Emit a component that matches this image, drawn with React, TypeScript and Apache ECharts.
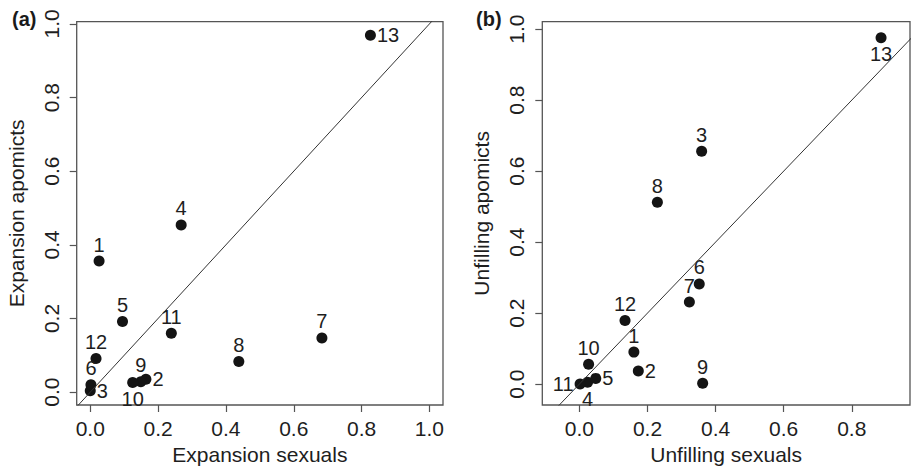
import React, { useEffect, useRef } from "react";
import * as echarts from "echarts";

const pointLabels = ["1", "2", "3", "4", "5", "6", "7", "8", "9", "10", "11", "12", "13"];

// Panel (a)
const expansionSexuals = [0.026, 0.164, 0.0, 0.268, 0.095, 0.002, 0.683, 0.438, 0.149, 0.125, 0.239, 0.017, 0.826];
const expansionApomicts = [0.356, 0.035, 0.004, 0.454, 0.192, 0.02, 0.147, 0.083, 0.028, 0.026, 0.16, 0.091, 0.969];
const labelPosA = ["top", "right", "right", "top", "top", "top", "top", "top", "top", "bottom", "top", "top", "right"];

// Panel (b)
const unfillingSexuals = [0.16, 0.173, 0.359, 0.024, 0.048, 0.352, 0.323, 0.229, 0.362, 0.027, 0.002, 0.134, 0.886];
const unfillingApomicts = [0.09, 0.037, 0.656, 0.005, 0.016, 0.282, 0.231, 0.512, 0.002, 0.056, 0.0, 0.179, 0.976];
const labelPosB = ["top", "right", "top", "bottom", "right", "top", "top", "top", "top", "top", "left", "top", "bottom"];

const ticksA_x = [0, 0.2, 0.4, 0.6, 0.8, 1.0];
const ticksA_y = [0, 0.2, 0.4, 0.6, 0.8, 1.0];
const ticksB_x = [0, 0.2, 0.4, 0.6, 0.8];
const ticksB_y = [0, 0.2, 0.4, 0.6, 0.8, 1.0];

// y = x reference line endpoints (clipped to plot area)
const identityLine = [[-0.5, -0.5], [1.5, 1.5]];

const FONT = "Liberation Sans";
const TEXT = "#1e1e1e";
const FS = 21;

function axisCommon(ticks: number[], min: number, max: number, name: string, isY: boolean, gridIndex: number) {
  return {
    type: "value",
    gridIndex,
    min,
    max,
    name,
    nameLocation: "middle",
    nameGap: isY ? 50 : 39,
    nameMoveOverlap: false,
    nameTextStyle: { fontFamily: FONT, fontSize: FS, color: TEXT },
    axisLine: { show: false, onZero: false },
    splitLine: { show: false },
    axisTick: {
      show: true,
      inside: false,
      length: 7,
      customValues: ticks,
      lineStyle: { color: "#555", width: 1.2 },
    },
    axisLabel: {
      show: true,
      customValues: ticks,
      rotate: isY ? 90 : 0,
      margin: isY ? 15 : 13,
      fontFamily: FONT,
      fontSize: FS,
      color: TEXT,
      formatter: (v: number) => v.toFixed(1),
    },
  };
}

function scatterData(xs: number[], ys: number[], pos: string[]) {
  return xs.map((x, i) => ({
    value: [x, ys[i]],
    name: pointLabels[i],
    label: { position: pos[i] },
  }));
}

export default function App() {
  const ref = useRef<HTMLDivElement>(null);
  useEffect(() => {
    if (!ref.current) return;
    const chart = echarts.init(ref.current, undefined, { renderer: "svg" });
    const labelStyle = {
      show: true,
      formatter: (p: any) => p.name,
      fontFamily: FONT,
      fontSize: 20,
      color: TEXT,
      distance: 1,
    };
    chart.setOption({
      animation: false,
      backgroundColor: "#ffffff",
      grid: [
        {
          left: 76.7, right: 478, top: 21.7, bottom: 66,
          show: true, borderColor: "#555", borderWidth: 1.3, backgroundColor: "transparent",
          containLabel: false, outerBoundsMode: "none",
        },
        {
          left: 542.3, right: 11, top: 21.7, bottom: 66,
          show: true, borderColor: "#555", borderWidth: 1.3, backgroundColor: "transparent",
          containLabel: false, outerBoundsMode: "none",
        },
      ],
      xAxis: [
        axisCommon(ticksA_x, -0.04, 1.04, "Expansion sexuals", false, 0),
        axisCommon(ticksB_x, -0.109, 0.971, "Unfilling sexuals", false, 1),
      ],
      yAxis: [
        axisCommon(ticksA_y, -0.035, 1.006, "Expansion apomicts", true, 0),
        axisCommon(ticksB_y, -0.059, 1.021, "Unfilling apomicts", true, 1),
      ],
      graphic: [
        { type: "text", left: 12, top: 9, style: { text: "(a)", fontFamily: FONT, fontSize: 20, fontWeight: "bold", fill: "#1a1a1a" } },
        { type: "text", left: 476, top: 9, style: { text: "(b)", fontFamily: FONT, fontSize: 20, fontWeight: "bold", fill: "#1a1a1a" } },
      ],
      series: [
        {
          type: "line", xAxisIndex: 0, yAxisIndex: 0, data: identityLine, clip: true,
          symbol: "none", lineStyle: { color: "#333", width: 1 }, silent: true,
        },
        {
          type: "line", xAxisIndex: 1, yAxisIndex: 1, data: identityLine, clip: true,
          symbol: "none", lineStyle: { color: "#333", width: 1 }, silent: true,
        },
        {
          type: "scatter", xAxisIndex: 0, yAxisIndex: 0,
          data: scatterData(expansionSexuals, expansionApomicts, labelPosA),
          symbol: "circle", symbolSize: 11,
          itemStyle: { color: "#141414", opacity: 1 },
          label: labelStyle,
        },
        {
          type: "scatter", xAxisIndex: 1, yAxisIndex: 1,
          data: scatterData(unfillingSexuals, unfillingApomicts, labelPosB),
          symbol: "circle", symbolSize: 11,
          itemStyle: { color: "#141414", opacity: 1 },
          label: labelStyle,
        },
      ],
    });
    return () => chart.dispose();
  }, []);
  return (
    <div
      ref={ref}
      style={{ position: "fixed", left: 0, top: 0, width: 921, height: 471, background: "#fff" }}
    />
  );
}
